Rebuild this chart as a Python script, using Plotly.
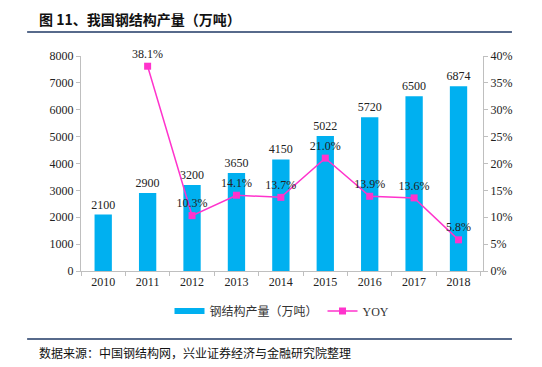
import plotly.graph_objects as go

years = ["2010", "2011", "2012", "2013", "2014", "2015", "2016", "2017", "2018"]
output = [2100, 2900, 3200, 3650, 4150, 5022, 5720, 6500, 6874]
yoy_years = ["2011", "2012", "2013", "2014", "2015", "2016", "2017", "2018"]
yoy = [38.1, 10.3, 14.1, 13.7, 21.0, 13.9, 13.6, 5.8]

serif = "Liberation Serif, Times New Roman, serif"
cjk = "Noto Sans CJK SC"
bar_color = "#00B0F0"
line_color = "#FF33CC"

fig = go.Figure()
fig.add_trace(go.Bar(
    x=years, y=output, name="钢结构产量（万吨）", showlegend=False,
    marker=dict(color=bar_color, line=dict(width=0)),
    width=0.39,
    text=[str(v) for v in output], textposition="outside", constraintext="none",
    textfont=dict(family=serif, size=12, color="#222"),
    cliponaxis=False,
))
# legend entry for bars (wide flat swatch as in the reference)
fig.add_trace(go.Scatter(
    x=[None], y=[None], mode="lines", name="钢结构产量（万吨）",
    line=dict(color=bar_color, width=6),
))
fig.add_trace(go.Scatter(
    x=yoy_years, y=yoy, name="YOY", yaxis="y2", mode="lines+markers+text",
    line=dict(color=line_color, width=1.5),
    marker=dict(symbol="square", size=7, color=line_color),
    text=[f"{v:.1f}%" for v in yoy], textposition="top center",
    textfont=dict(family=serif, size=12, color="#222"),
    cliponaxis=False,
))

fig.update_layout(
    width=542, height=367,
    margin=dict(l=81, r=59, t=56, b=96),
    paper_bgcolor="white", plot_bgcolor="white",
    showlegend=True,
    legend=dict(orientation="h", x=0.5, xanchor="center", y=-0.186, yanchor="middle",
                font=dict(family="Liberation Serif, " + cjk, size=12, color="#333"),
                itemwidth=30, tracegroupgap=0),
    xaxis=dict(type="category", showline=True, linecolor="#BFBFBF", ticks="outside",
               tickson="boundaries", ticklen=4, tickcolor="#BFBFBF",
               tickfont=dict(family=serif, size=12, color="#222"), showgrid=False),
    yaxis=dict(range=[0, 8000], dtick=1000, showline=True, linecolor="#BFBFBF",
               ticks="outside", ticklen=4, tickcolor="#BFBFBF", showgrid=False,
               tickfont=dict(family=serif, size=12, color="#222"), zeroline=False),
    yaxis2=dict(range=[0, 40], dtick=5, overlaying="y", side="right", showline=True,
                linecolor="#BFBFBF", ticks="outside", ticklen=4, tickcolor="#BFBFBF",
                ticksuffix="%", showgrid=False, zeroline=False,
                tickfont=dict(family=serif, size=12, color="#222")),
    font=dict(family=serif),
)

fig.add_annotation(text="<b>图 11、我国钢结构产量（万吨）</b>", xref="paper", yref="paper",
                   x=-0.109, y=1.172, xanchor="left", yanchor="middle", showarrow=False,
                   font=dict(family=cjk, size=14, color="#111"))
fig.add_shape(type="line", xref="paper", yref="paper", x0=-0.134, x1=1.072,
              y0=1.1116, y1=1.1116, line=dict(color="#1F3864", width=1.5))
fig.add_shape(type="line", xref="paper", yref="paper", x0=-0.134, x1=1.072,
              y0=-0.316, y1=-0.316, line=dict(color="#1F3864", width=1.5))
fig.add_annotation(text="数据来源：中国钢结构网，兴业证券经济与金融研究院整理", xref="paper", yref="paper",
                   x=-0.109, y=-0.377, xanchor="left", yanchor="middle", showarrow=False,
                   font=dict(family=cjk, size=12, color="#111"))

fig.write_html("out.html", config={"displayModeBar": False},
               post_script="document.body.style.margin='0';")
